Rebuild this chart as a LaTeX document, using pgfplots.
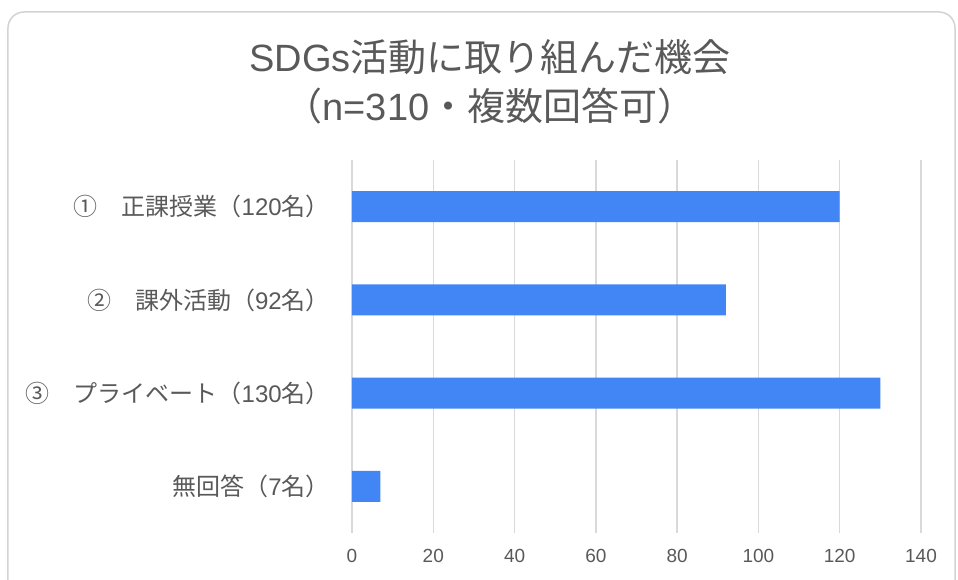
\documentclass[border=0pt]{standalone}
\usepackage{fontspec}
\setmainfont{Liberation Sans}
\newfontfamily\cjk{Noto Sans CJK JP}
\usepackage{pgfplots}
\pgfplotsset{compat=1.18}
\definecolor{barblue}{HTML}{4285F4}
\definecolor{txtgray}{HTML}{595959}
\definecolor{gridgray}{HTML}{D9D9D9}
\definecolor{framegray}{HTML}{D3D3D3}
\begin{document}
\begin{tikzpicture}
\useasboundingbox (-352pt,-46pt) rectangle (606pt,533pt);
\begin{scope}
\clip (-352pt,-46pt) rectangle (606pt,533pt);
\draw[framegray, line width=1.5pt, rounded corners=16pt] (-344pt,-90pt) rectangle (603pt,521pt);
\end{scope}
\begin{axis}[
  at={(0pt,0pt)}, anchor=south west,
  scale only axis, width=569pt, height=373pt,
  xbar, bar width=31pt,
  xmin=0, xmax=140, ymin=-0.5, ymax=3.5, y dir=reverse,
  xtick={0,20,...,140}, ytick={0,1,2,3},
  yticklabels={
    {{\cjk ①　正課授業（}120{\cjk 名）}},
    {{\cjk ②　課外活動（}92{\cjk 名）}},
    {{\cjk ③　プライベート（}130{\cjk 名）}},
    {{\cjk 無回答（}7{\cjk 名）}}},
  xmajorgrids, grid style={gridgray, line width=1.3pt},
  axis line style={draw=none}, major tick length=0pt,
  tick label style={text=txtgray},
  xticklabel style={font=\fontsize{19}{22}\selectfont, anchor=center, yshift=-23pt},
  yticklabel style={font=\fontsize{24}{28}\selectfont, anchor=east, inner sep=0pt, xshift=-22pt},
  /pgf/number format/assume math mode=true,
  clip=false,
]
\addplot[fill=barblue, draw=none] coordinates {(120,0) (92,1) (130,2) (7,3)};
\end{axis}
\node[text=txtgray, font=\fontsize{38}{44}\selectfont] at (138pt,476pt) {SDGs{\cjk 活動に取り組んだ機会}};
\node[text=txtgray, font=\fontsize{38}{44}\selectfont] at (138pt,427pt) {{\cjk （}n=310{\cjk ・複数回答可）}};
\end{tikzpicture}
\end{document}
